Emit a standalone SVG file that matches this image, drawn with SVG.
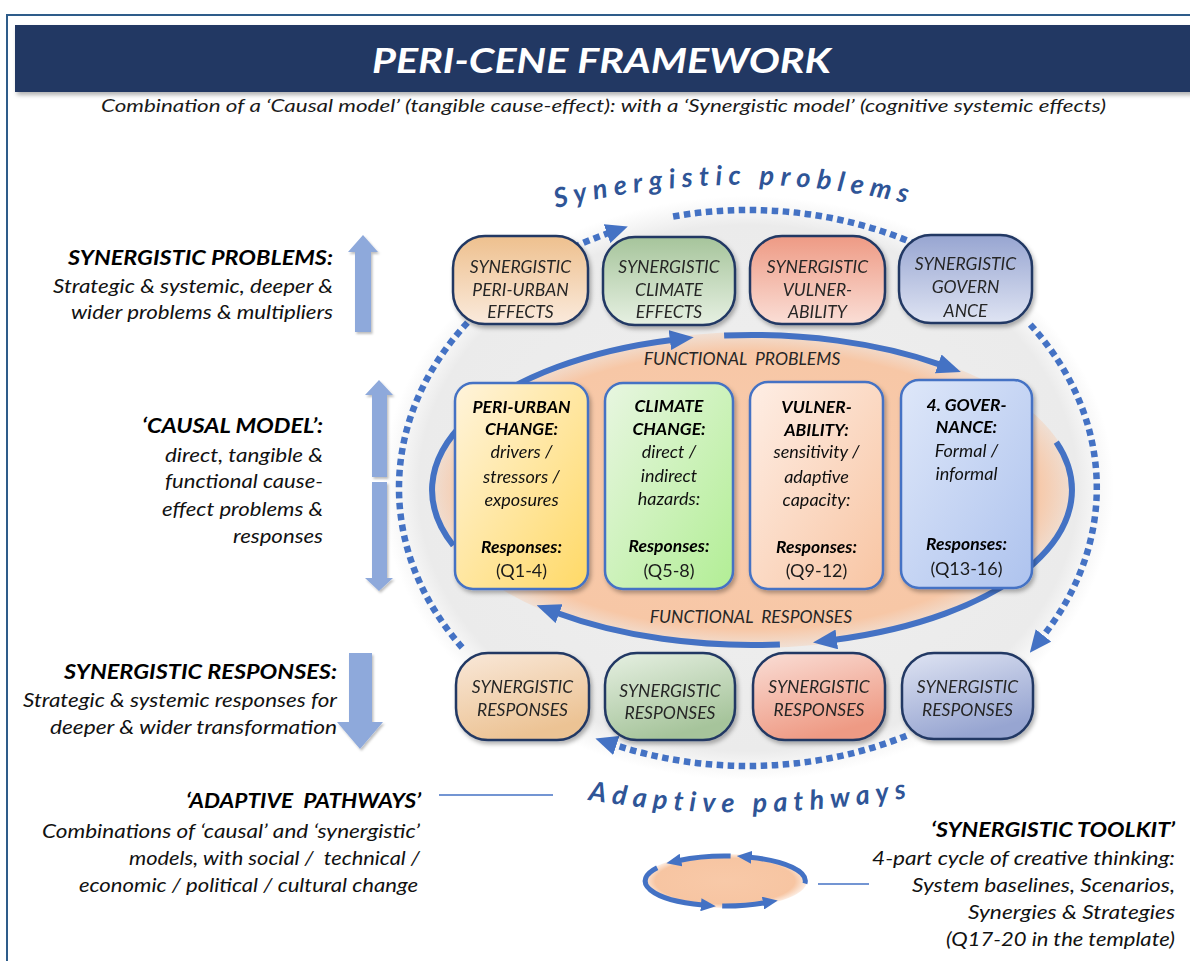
<svg xmlns="http://www.w3.org/2000/svg" width="1190" height="961" viewBox="0 0 1190 961">
<defs>
<style>
.t{font-family:Lato,"Open Sans","Liberation Sans",sans-serif}
.n{font-family:Lato,"Open Sans","Liberation Sans",sans-serif;font-size:17.5px;font-style:italic;fill:#262626;text-anchor:middle}
.nb{font-family:Lato,"Open Sans","Liberation Sans",sans-serif;font-size:18px;font-style:italic;fill:#111;text-anchor:middle}
.h{font-family:Lato,"Open Sans","Liberation Sans",sans-serif;font-size:17.5px;font-style:italic;font-weight:bold;fill:#000;text-anchor:middle}
.q{font-family:Lato,"Open Sans","Liberation Sans",sans-serif;font-size:18px;fill:#1a1a1a;text-anchor:middle}
.lh{font-family:Lato,"Open Sans","Liberation Sans",sans-serif;font-size:20px;font-style:italic;font-weight:bold;fill:#000}
.lt{font-family:Lato,"Open Sans","Liberation Sans",sans-serif;font-size:20px;font-style:italic;fill:#111}
.curve{font-family:Lato,"Open Sans","Liberation Sans",sans-serif;font-size:27px;font-style:italic;font-weight:bold;fill:#2F5597}
.sol{fill:none;stroke:#4472C4;stroke-width:6}
.dot{fill:none;stroke:#4472C4;stroke-width:6.5;stroke-dasharray:6.5 4.5}
.tk{fill:none;stroke:#4472C4;stroke-width:5}
.sn{stroke:#203864;stroke-width:2.5}
.mn{stroke:#4472C4;stroke-width:2.5}
.la{fill:#8EA9DB}
.lnk{stroke:#4472C4;stroke-width:1.5}
</style>
<filter id="sh" x="-10%" y="-10%" width="130%" height="130%">
<feDropShadow dx="2" dy="3" stdDeviation="2" flood-color="#000" flood-opacity="0.3"/>
</filter>
<filter id="sh2" x="-10%" y="-10%" width="130%" height="130%">
<feDropShadow dx="1.5" dy="2" stdDeviation="1.2" flood-color="#000" flood-opacity="0.25"/>
</filter>
<marker id="ah" viewBox="0 0 24 20" markerUnits="userSpaceOnUse" markerWidth="24" markerHeight="20" refX="2" refY="10" orient="auto">
<path d="M0,0 L24,10 L0,20 z" fill="#4472C4"/>
</marker>
<marker id="ahd" viewBox="0 0 22 20" markerUnits="userSpaceOnUse" markerWidth="22" markerHeight="20" refX="2" refY="10" orient="auto">
<path d="M0,0 L22,10 L0,20 z" fill="#4472C4"/>
</marker>
<marker id="ahs" viewBox="0 0 15 13" markerUnits="userSpaceOnUse" markerWidth="15" markerHeight="13" refX="2" refY="6.5" orient="auto">
<path d="M0,0 L15,6.5 L0,13 z" fill="#4472C4"/>
</marker>
<radialGradient id="grey" cx="0.5" cy="0.5" r="0.5">
<stop offset="0" stop-color="#F0F0F0"/>
<stop offset="0.9" stop-color="#EBEBEB"/>
<stop offset="1" stop-color="#EDEDED" stop-opacity="0"/>
</radialGradient>
<radialGradient id="peach" cx="0.5" cy="0.5" r="0.5">
<stop offset="0" stop-color="#F8CBAD"/>
<stop offset="0.88" stop-color="#F7C7A6"/>
<stop offset="1" stop-color="#F7C7A6" stop-opacity="0.35"/>
</radialGradient>
<radialGradient id="peach2" cx="0.5" cy="0.5" r="0.5">
<stop offset="0" stop-color="#F8C9A8"/>
<stop offset="0.85" stop-color="#F7C5A2"/>
<stop offset="1" stop-color="#F7C5A2" stop-opacity="0.3"/>
</radialGradient>
<linearGradient id="t1" x1="0" y1="0" x2="0" y2="1"><stop offset="0" stop-color="#EEC08E"/><stop offset="1" stop-color="#FAEADC"/></linearGradient>
<linearGradient id="t2" x1="0" y1="0" x2="0" y2="1"><stop offset="0" stop-color="#A6C49B"/><stop offset="1" stop-color="#E6F0E2"/></linearGradient>
<linearGradient id="t3" x1="0" y1="0" x2="0" y2="1"><stop offset="0" stop-color="#EE9A84"/><stop offset="1" stop-color="#FADED6"/></linearGradient>
<linearGradient id="t4" x1="0" y1="0" x2="0" y2="1"><stop offset="0" stop-color="#97A5D1"/><stop offset="1" stop-color="#DFE4F3"/></linearGradient>
<linearGradient id="b1" x1="0" y1="0" x2="0.4" y2="1"><stop offset="0" stop-color="#F9E8D9"/><stop offset="1" stop-color="#ECC394"/></linearGradient>
<linearGradient id="b2" x1="0" y1="0" x2="0.4" y2="1"><stop offset="0" stop-color="#E6F0E2"/><stop offset="1" stop-color="#A6C49B"/></linearGradient>
<linearGradient id="b3" x1="0" y1="0" x2="0.4" y2="1"><stop offset="0" stop-color="#FADED6"/><stop offset="1" stop-color="#EE9A84"/></linearGradient>
<linearGradient id="b4" x1="0" y1="0" x2="0.4" y2="1"><stop offset="0" stop-color="#DFE4F3"/><stop offset="1" stop-color="#97A5D1"/></linearGradient>
<linearGradient id="m1" x1="0" y1="0" x2="1" y2="1"><stop offset="0" stop-color="#FFF4DC"/><stop offset="1" stop-color="#FFD966"/></linearGradient>
<linearGradient id="m2" x1="0" y1="0" x2="1" y2="1"><stop offset="0" stop-color="#E8F6E1"/><stop offset="1" stop-color="#B2EE95"/></linearGradient>
<linearGradient id="m3" x1="0" y1="0" x2="1" y2="1"><stop offset="0" stop-color="#FEEEE5"/><stop offset="1" stop-color="#F8C5A3"/></linearGradient>
<linearGradient id="m4" x1="0" y1="0" x2="1" y2="1"><stop offset="0" stop-color="#DEE7F9"/><stop offset="1" stop-color="#AEC3EE"/></linearGradient>
<path id="pTop" d="M556,208 Q740,163 914,205"/>
<path id="pBot" d="M588,800 Q748,826 912,797"/>
</defs>

<rect x="0" y="0" width="1190" height="961" fill="#FFFFFF"/>
<rect x="7" y="15" width="1200" height="960" fill="none" stroke="#2E5C8A" stroke-width="2"/>

<g id="header">
<rect x="15" y="25" width="1180" height="67" fill="#203864" filter="url(#sh)"/>
<text class="t" x="372" y="73" font-size="34" font-weight="bold" font-style="italic" fill="#FFFFFF" textLength="459" lengthAdjust="spacingAndGlyphs">PERI-CENE FRAMEWORK</text>
<text class="t" x="101" y="112" font-size="17.5" font-style="italic" fill="#1a1a1a" textLength="1005" lengthAdjust="spacingAndGlyphs">Combination of a ‘Causal model’ (tangible cause-effect): with a ‘Synergistic model’ (cognitive systemic effects)</text>
</g>

<g id="background">
<ellipse cx="748" cy="488" rx="366" ry="292" fill="url(#grey)"/>
<ellipse cx="752" cy="490" rx="322" ry="158" fill="url(#peach)"/>
</g>

<g id="curved-labels">
<text class="curve" letter-spacing="6.3"><textPath href="#pTop">Synergistic problems</textPath></text>
<text class="curve" letter-spacing="6.3"><textPath href="#pBot">Adaptive pathways</textPath></text>
</g>

<g id="connectors">
<path class="dot" d="M573.5,247.3 A349 278 0 0 1 608.9,233" marker-end="url(#ahd)"/>
<path class="dot" d="M673.1,216.5 A349 278 0 0 1 915.1,243.9"/>
<path class="dot" d="M1030.3,324.6 A349 278 0 0 1 1042.3,637" marker-end="url(#ahd)"/>
<path class="dot" d="M462.1,647.5 A349 278 0 0 1 469.3,320.7"/>
<path class="dot" d="M906.4,735.7 A349 278 0 0 1 614.4,744.8" marker-end="url(#ahd)"/>
<path class="sol" d="M453.3,545.5 A320 155 0 0 1 671.9,339.9" marker-end="url(#ah)"/>
<path class="sol" d="M724.1,335.6 A320 155 0 0 1 940.1,364.6" marker-end="url(#ah)"/>
<path class="sol" d="M1056.3,442.1 A320 155 0 0 1 834.8,639.7" marker-end="url(#ah)"/>
<path class="sol" d="M779.9,644.4 A320 155 0 0 1 557.2,613" marker-end="url(#ah)"/>
</g>

<g id="functional-labels">
<text class="n" x="742" y="365" fill="#1a1a1a" xml:space="preserve">FUNCTIONAL  PROBLEMS</text>
<text class="n" x="751" y="623" fill="#1a1a1a" xml:space="preserve">FUNCTIONAL  RESPONSES</text>
</g>

<g id="syn-periurban-effects" filter="url(#sh)">
<rect class="sn" x="453" y="236" width="135" height="88" rx="32" fill="url(#t1)"/>
<text class="n" x="520.5" y="273">SYNERGISTIC</text>
<text class="n" x="520.5" y="296">PERI-URBAN</text>
<text class="n" x="520.5" y="318">EFFECTS</text>
</g>
<g id="syn-climate-effects" filter="url(#sh)">
<rect class="sn" x="603" y="237" width="132" height="88" rx="32" fill="url(#t2)"/>
<text class="n" x="669" y="273">SYNERGISTIC</text>
<text class="n" x="669" y="296">CLIMATE</text>
<text class="n" x="669" y="318">EFFECTS</text>
</g>
<g id="syn-vulnerability" filter="url(#sh)">
<rect class="sn" x="750" y="236" width="135" height="88" rx="32" fill="url(#t3)"/>
<text class="n" x="817.5" y="273">SYNERGISTIC</text>
<text class="n" x="817.5" y="296">VULNER-</text>
<text class="n" x="817.5" y="318">ABILITY</text>
</g>
<g id="syn-governance" filter="url(#sh)">
<rect class="sn" x="899" y="235" width="133" height="88" rx="32" fill="url(#t4)"/>
<text class="n" x="965.5" y="270">SYNERGISTIC</text>
<text class="n" x="965.5" y="293">GOVERN</text>
<text class="n" x="965.5" y="317">ANCE</text>
</g>

<g id="periurban-change" filter="url(#sh)">
<rect class="mn" x="455" y="383" width="133" height="206" rx="18" fill="url(#m1)"/>
<text class="h" x="521.5" y="413">PERI-URBAN</text>
<text class="h" x="521.5" y="435">CHANGE:</text>
<text class="nb" x="521.5" y="458">drivers /</text>
<text class="nb" x="521.5" y="483">stressors /</text>
<text class="nb" x="521.5" y="506">exposures</text>
<text class="h" x="521.5" y="553">Responses:</text>
<text class="q" x="521.5" y="577">(Q1-4)</text>
</g>
<g id="climate-change" filter="url(#sh)">
<rect class="mn" x="605" y="383" width="128" height="206" rx="18" fill="url(#m2)"/>
<text class="h" x="669" y="412">CLIMATE</text>
<text class="h" x="669" y="435">CHANGE:</text>
<text class="nb" x="669" y="458">direct /</text>
<text class="nb" x="669" y="482">indirect</text>
<text class="nb" x="669" y="505">hazards:</text>
<text class="h" x="669" y="552">Responses:</text>
<text class="q" x="669" y="577">(Q5-8)</text>
</g>
<g id="vulnerability" filter="url(#sh)">
<rect class="mn" x="750" y="382" width="133" height="207" rx="18" fill="url(#m3)"/>
<text class="h" x="816.5" y="413">VULNER-</text>
<text class="h" x="816.5" y="436">ABILITY:</text>
<text class="nb" x="816.5" y="458">sensitivity /</text>
<text class="nb" x="816.5" y="483">adaptive</text>
<text class="nb" x="816.5" y="506">capacity:</text>
<text class="h" x="816.5" y="553">Responses:</text>
<text class="q" x="816.5" y="577">(Q9-12)</text>
</g>
<g id="governance" filter="url(#sh)">
<rect class="mn" x="901" y="380" width="131" height="208" rx="18" fill="url(#m4)"/>
<text class="h" x="966.5" y="411">4. GOVER-</text>
<text class="h" x="966.5" y="433">NANCE:</text>
<text class="nb" x="966.5" y="457">Formal /</text>
<text class="nb" x="966.5" y="480">informal</text>
<text class="h" x="966.5" y="550">Responses:</text>
<text class="q" x="966.5" y="575">(Q13-16)</text>
</g>

<g id="syn-responses-1" filter="url(#sh)">
<rect class="sn" x="456" y="653" width="133" height="87" rx="32" fill="url(#b1)"/>
<text class="n" x="522.5" y="693">SYNERGISTIC</text>
<text class="n" x="522.5" y="716">RESPONSES</text>
</g>
<g id="syn-responses-2" filter="url(#sh)">
<rect class="sn" x="605" y="653" width="130" height="87" rx="32" fill="url(#b2)"/>
<text class="n" x="670" y="697">SYNERGISTIC</text>
<text class="n" x="670" y="719">RESPONSES</text>
</g>
<g id="syn-responses-3" filter="url(#sh)">
<rect class="sn" x="753" y="653" width="132" height="87" rx="32" fill="url(#b3)"/>
<text class="n" x="819" y="693">SYNERGISTIC</text>
<text class="n" x="819" y="716">RESPONSES</text>
</g>
<g id="syn-responses-4" filter="url(#sh)">
<rect class="sn" x="902" y="653" width="131" height="86" rx="32" fill="url(#b4)"/>
<text class="n" x="967.5" y="693">SYNERGISTIC</text>
<text class="n" x="967.5" y="716">RESPONSES</text>
</g>

<g id="left-arrows" filter="url(#sh2)">
<polygon class="la" points="363,235 378,252 371,252 371,332 355,332 355,252 348,252"/>
<polygon class="la" points="379,380 393,395 387,395 387,477 372,477 372,395 365,395"/>
<polygon class="la" points="372,482 387,482 387,578 393,578 379,591 365,578 372,578"/>
<polygon class="la" points="349,653 372,653 372,722 383,722 360,749 337,722 349,722"/>
</g>

<g id="synergistic-problems-label">
<text class="lh" x="68" y="265" textLength="265" lengthAdjust="spacingAndGlyphs">SYNERGISTIC PROBLEMS:</text>
<text class="lt" x="53" y="293" textLength="280" lengthAdjust="spacingAndGlyphs">Strategic &amp; systemic, deeper &amp;</text>
<text class="lt" x="71" y="319" textLength="262" lengthAdjust="spacingAndGlyphs">wider problems &amp; multipliers</text>
</g>
<g id="causal-model-label">
<text class="lh" x="142" y="433" textLength="181" lengthAdjust="spacingAndGlyphs">‘CAUSAL MODEL’:</text>
<text class="lt" x="165" y="462" textLength="158" lengthAdjust="spacingAndGlyphs">direct, tangible &amp;</text>
<text class="lt" x="165" y="488" textLength="158" lengthAdjust="spacingAndGlyphs">functional cause-</text>
<text class="lt" x="162" y="516" textLength="161" lengthAdjust="spacingAndGlyphs">effect problems &amp;</text>
<text class="lt" x="233" y="543" textLength="90" lengthAdjust="spacingAndGlyphs">responses</text>
</g>
<g id="synergistic-responses-label">
<text class="lh" x="64" y="679" textLength="273" lengthAdjust="spacingAndGlyphs">SYNERGISTIC RESPONSES:</text>
<text class="lt" x="23" y="707" textLength="314" lengthAdjust="spacingAndGlyphs">Strategic &amp; systemic responses for</text>
<text class="lt" x="50" y="734" textLength="287" lengthAdjust="spacingAndGlyphs">deeper &amp; wider transformation</text>
</g>
<g id="adaptive-pathways-label">
<text class="lh" x="186" y="808" textLength="235" lengthAdjust="spacingAndGlyphs" xml:space="preserve">‘ADAPTIVE  PATHWAYS’</text>
<text class="lt" x="42" y="838" textLength="378" lengthAdjust="spacingAndGlyphs">Combinations of ‘causal’ and ‘synergistic’</text>
<text class="lt" x="129" y="865" textLength="291" lengthAdjust="spacingAndGlyphs" xml:space="preserve">models, with social /  technical /</text>
<text class="lt" x="79" y="892" textLength="339" lengthAdjust="spacingAndGlyphs">economic / political / cultural change</text>
<line class="lnk" x1="439" y1="795" x2="553" y2="795"/>
</g>

<g id="toolkit">
<ellipse cx="725" cy="881" rx="82" ry="27" fill="url(#peach2)"/>
<path class="tk" d="M730.6,856.1 A80 25 0 0 0 679.1,860.5" marker-end="url(#ahs)"/>
<path class="tk" d="M804.9,883.5 A80 25 0 0 0 749.7,857.2" marker-end="url(#ahs)"/>
<path class="tk" d="M657.2,867.8 A80 25 0 0 0 702.9,905" marker-end="url(#ahs)"/>
<path class="tk" d="M722.2,906 A80 25 0 0 0 765,902.7" marker-end="url(#ahs)"/>
<line class="lnk" x1="818" y1="884" x2="869" y2="884"/>
<text class="lh" x="931" y="837" textLength="244" lengthAdjust="spacingAndGlyphs">‘SYNERGISTIC TOOLKIT’</text>
<text class="lt" x="872" y="865" textLength="303" lengthAdjust="spacingAndGlyphs">4-part cycle of creative thinking:</text>
<text class="lt" x="912" y="892" textLength="263" lengthAdjust="spacingAndGlyphs">System baselines, Scenarios,</text>
<text class="lt" x="968" y="919" textLength="207" lengthAdjust="spacingAndGlyphs">Synergies &amp; Strategies</text>
<text class="lt" x="946" y="946" textLength="229" lengthAdjust="spacingAndGlyphs">(Q17-20 in the template)</text>
</g>
</svg>
